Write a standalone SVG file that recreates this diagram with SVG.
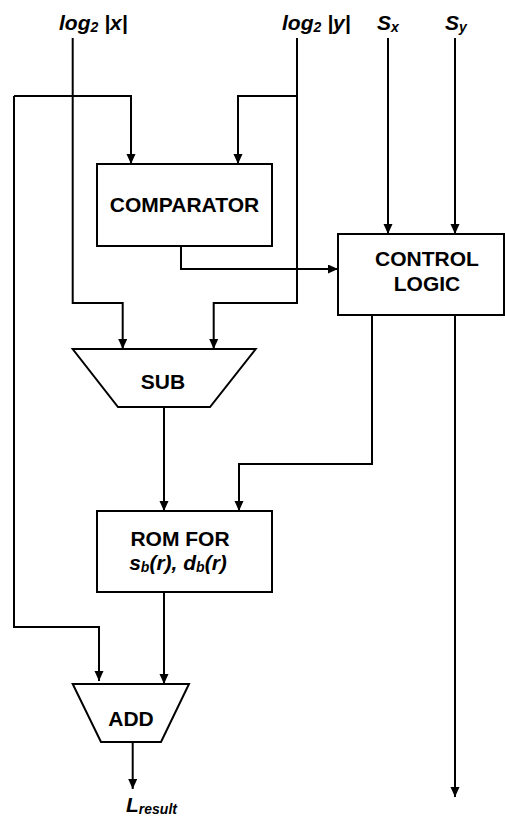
<svg xmlns="http://www.w3.org/2000/svg" width="505" height="816" viewBox="0 0 505 816">
<style>
.n{fill:#fff;stroke:#000;stroke-width:2}
.t{font-family:"Liberation Sans",Arial,sans-serif;font-weight:bold;font-size:21px;fill:#000}
.i{font-style:italic}
.s{font-size:14px}
.c{fill:none;stroke:#000;stroke-width:2}
</style>
<defs>
<marker id="a" markerUnits="userSpaceOnUse" markerWidth="10" markerHeight="10" refX="10" refY="4.5" orient="auto"><path d="M0,0 L10,4.5 L0,9 z" fill="#000"/></marker>
</defs>
<rect width="505" height="816" fill="#fff"/>
<g id="labels">
<text class="t i" x="59" y="30">log<tspan class="s" dy="2">2</tspan><tspan dy="-2"> |x|</tspan></text>
<text class="t i" x="282" y="30">log<tspan class="s" dy="2">2</tspan><tspan dy="-2"> |y|</tspan></text>
<text class="t i" x="377" y="30">S<tspan class="s" dy="2">x</tspan></text>
<text class="t i" x="445" y="30">S<tspan class="s" dy="2">y</tspan></text>
<text class="t i" x="126" y="812">L<tspan class="s" dy="2">result</tspan></text>
</g>
<g id="connectors">
<path class="c" d="M72.7,38 V303 H122.7 V349" marker-end="url(#a)"/>
<path class="c" d="M14,96 H131 V164" marker-end="url(#a)"/>
<path class="c" d="M14,96 V627 H99 V681" marker-end="url(#a)"/>
<path class="c" d="M297,38 V303 H213.7 V349" marker-end="url(#a)"/>
<path class="c" d="M297,96 H238 V164" marker-end="url(#a)"/>
<path class="c" d="M388,38 V234" marker-end="url(#a)"/>
<path class="c" d="M455,38 V234" marker-end="url(#a)"/>
<path class="c" d="M181,246 V269 H338" marker-end="url(#a)"/>
<path class="c" d="M372,315 V464 H239 V511" marker-end="url(#a)"/>
<path class="c" d="M455,315 V797" marker-end="url(#a)"/>
<path class="c" d="M164,407 V511" marker-end="url(#a)"/>
<path class="c" d="M164,592 V684" marker-end="url(#a)"/>
<path class="c" d="M132.7,742 V789" marker-end="url(#a)"/>
</g>
<g id="comparator">
<rect class="n" x="97" y="164" width="175" height="82"/>
<text class="t" x="184.5" y="212" text-anchor="middle">COMPARATOR</text>
</g>
<g id="control">
<rect class="n" x="338" y="234" width="166" height="81"/>
<text class="t" x="427" y="266" text-anchor="middle">CONTROL</text>
<text class="t" x="427" y="291" text-anchor="middle">LOGIC</text>
</g>
<g id="sub">
<polygon class="n" points="72.7,349 255.7,349 210,407 118,407"/>
<text class="t" x="163" y="389" text-anchor="middle">SUB</text>
</g>
<g id="rom">
<rect class="n" x="97" y="511" width="175" height="81"/>
<text class="t" x="180" y="546" text-anchor="middle">ROM FOR</text>
<text class="t i" x="178" y="570" text-anchor="middle">s<tspan class="s" dy="2">b</tspan><tspan dy="-2">(r), d</tspan><tspan class="s" dy="2">b</tspan><tspan dy="-2">(r)</tspan></text>
</g>
<g id="add">
<polygon class="n" points="72.7,684 189,684 161,742 101,742"/>
<text class="t" x="131" y="726" text-anchor="middle">ADD</text>
</g>
</svg>
